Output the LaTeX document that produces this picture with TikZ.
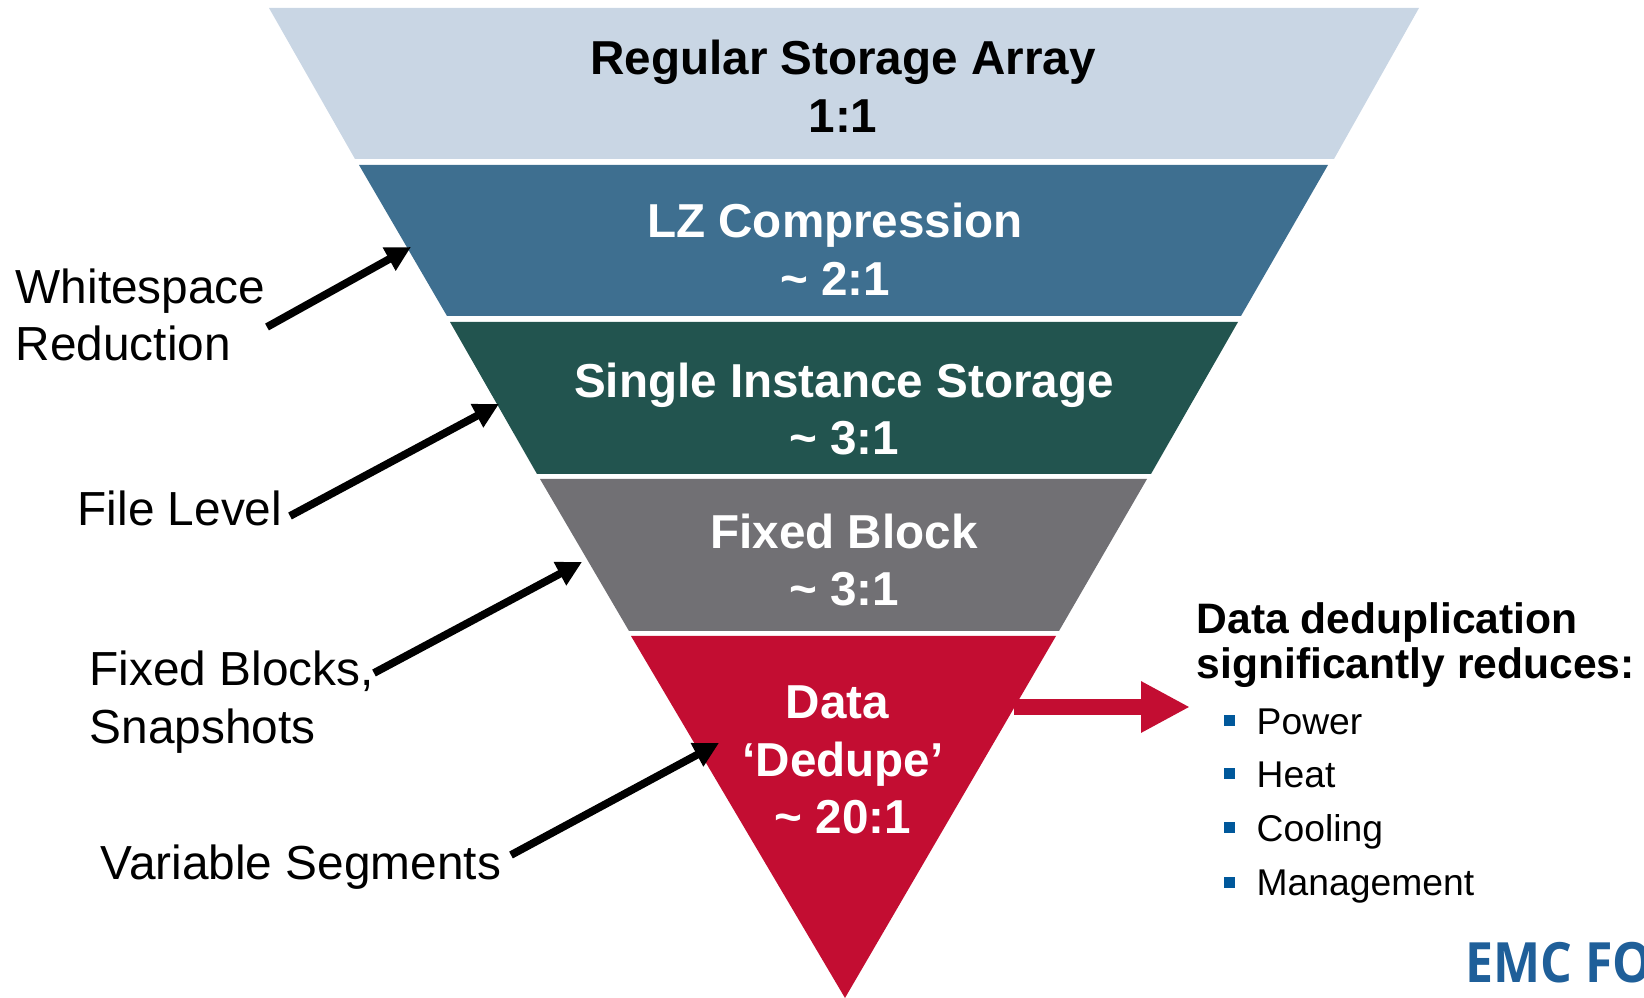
\documentclass[tikz,border=0pt]{standalone}
\usepackage{fontspec}
\setmainfont{Liberation Sans}
\newfontfamily\logofont{Open Sans}
\usetikzlibrary{arrows.meta, positioning}

\definecolor{tierone}{HTML}{C9D6E4}
\definecolor{tiertwo}{HTML}{3E6F90}
\definecolor{tierthree}{HTML}{22544F}
\definecolor{tierfour}{HTML}{717074}
\definecolor{tierfive}{HTML}{C30D32}
\definecolor{bulletblue}{HTML}{00589B}
\definecolor{logoblue}{HTML}{1F5F99}

\tikzset{
  tierlabel/.style={align=center, font=\fontsize{13.55}{16.4}\selectfont\bfseries, inner sep=0pt, text=white},
  sidelabel/.style={align=left, anchor=west, font=\fontsize{13.6}{16.4}\selectfont, inner sep=0pt},
  itemlabel/.style={anchor=base west, font=\fontsize{10.6}{12}\selectfont, inner sep=0pt},
  itembullet/.style={fill=bulletblue, minimum size=0.11cm, inner sep=0pt},
  blackarrow/.style={-{Triangle[length=0.25cm, width=0.25cm]}, line width=2.2pt}
}

\begin{document}
\begin{tikzpicture}
  \useasboundingbox (0,0) rectangle (16.44,9.98);

  % Draw the funnel
  \fill [tierone] (2.69,9.90) -- (14.19,9.90) -- (13.34,8.39) -- (3.55,8.39) -- cycle;
  \fill [tiertwo] (3.59,8.33) -- (13.28,8.33) -- (12.41,6.82) -- (4.47,6.82) -- cycle;
  \fill [tierthree] (4.50,6.76) -- (12.38,6.76) -- (11.51,5.24) -- (5.37,5.24) -- cycle;
  \fill [tierfour] (5.40,5.19) -- (11.47,5.19) -- (10.59,3.67) -- (6.29,3.67) -- cycle;
  \fill [tierfive] (6.31,3.62) -- (10.56,3.62) -- (8.45,0) -- cycle;

  % Create the tier nodes
  \node (regular) [tierlabel, text=black] at (8.43,9.12) {Regular Storage Array\\1:1};
  \node (lz) [tierlabel] at (8.35,7.49) {LZ Compression\\\textasciitilde{} 2:1};
  \node (single) [tierlabel] at (8.44,5.89) {Single Instance Storage\\\textasciitilde{} 3:1};
  \node (fixed) [tierlabel] at (8.44,4.38) {Fixed Block\\\textasciitilde{} 3:1};
  \node (dedupe) [tierlabel] at (8.43,2.38) {Data\rule{0.11cm}{0pt}\\‘Dedupe’\\\textasciitilde{} 20:1};

  % Create the side labels
  \node (whitespace) [sidelabel] at (0.15,6.83) {Whitespace\\Reduction};
  \node (filelevel) [sidelabel] at (0.77,4.90) {File Level};
  \node (blocks) [sidelabel] at (0.89,2.96) {Fixed Blocks,\\Snapshots};
  \node (variable) [sidelabel] at (1.00,1.31) {Variable Segments};

  % Create the arrow ends
  \coordinate (whitespace tail) at (2.67,6.71);
  \coordinate (whitespace tip) at (4.11,7.51);
  \coordinate (filelevel tail) at (2.90,4.82);
  \coordinate (filelevel tip) at (4.99,5.94);
  \coordinate (blocks tail) at (3.74,3.25);
  \coordinate (blocks tip) at (5.82,4.36);
  \coordinate (variable tail) at (5.11,1.43);
  \coordinate (variable tip) at (7.19,2.55);
  \coordinate (reduce tail) at (10.14,2.91);
  \coordinate (reduce tip) at (11.90,2.91);

  \draw [blackarrow] (whitespace tail) -- (whitespace tip);
  \draw [blackarrow] (filelevel tail) -- (filelevel tip);
  \draw [blackarrow] (blocks tail) -- (blocks tip);
  \draw [blackarrow] (variable tail) -- (variable tip);
  \draw [-{Triangle[length=0.49cm, width=0.48cm]}, line width=0.16cm, draw=tierfive] (reduce tail) -- (reduce tip);

  % Draw the list
  \node (heading) [anchor=west, align=left, inner sep=0pt, font=\fontsize{12.12}{13}\selectfont\bfseries] at (11.96,3.53) {Data deduplication\\significantly reduces:};
  \node (power) [itemlabel] at (12.56,2.63) {Power};
  \node (heat) [itemlabel] at (12.56,2.10) {Heat};
  \node (cooling) [itemlabel] at (12.56,1.56) {Cooling};
  \node (management) [itemlabel] at (12.56,1.02) {Management};
  \node (power bullet) [itembullet] at (12.29,2.77) {};
  \node (heat bullet) [itembullet] at (12.29,2.24) {};
  \node (cooling bullet) [itembullet] at (12.29,1.70) {};
  \node (management bullet) [itembullet] at (12.29,1.15) {};

  % Logo in the corner
  \begin{scope}
    \clip (14.5,0) rectangle (16.44,1);
    \node (logo) [anchor=base west, inner sep=0pt, text=logoblue, xscale=0.9, font=\logofont\fontsize{15.8}{16}\selectfont\bfseries] at (14.65,0.15) {EMC FO};
  \end{scope}
\end{tikzpicture}
\end{document}
